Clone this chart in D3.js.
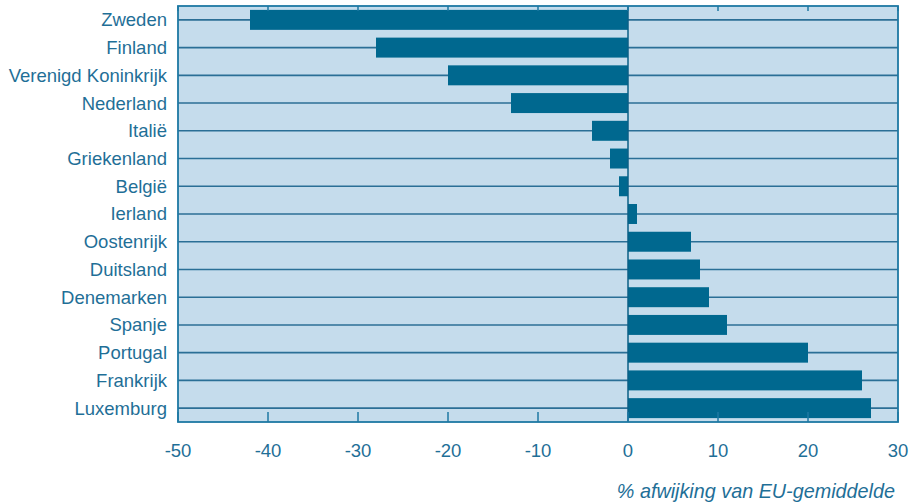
<!DOCTYPE html>
<html>
<head>
<meta charset="utf-8">
<script src="https://cdn.jsdelivr.net/npm/d3@7"></script>
<style>
  html, body { margin: 0; padding: 0; background: #ffffff; }
  svg { display: block; }
  text { font-family: "Liberation Sans", Arial, sans-serif; fill: #1f6f97; }
</style>
</head>
<body>
<svg id="chart" width="912" height="504"></svg>
<script>
// Landen en afwijking t.o.v. EU-gemiddelde (%)
const countries = ["Zweden", "Finland", "Verenigd Koninkrijk", "Nederland", "Italië",
  "Griekenland", "België", "Ierland", "Oostenrijk", "Duitsland", "Denemarken",
  "Spanje", "Portugal", "Frankrijk", "Luxemburg"];
const deviation = [-42, -28, -20, -13, -4, -2, -1, 1, 7, 8, 9, 11, 20, 26, 27];
const xTicks = [-50, -40, -30, -20, -10, 0, 10, 20, 30];
const axisTitle = "% afwijking van EU-gemiddelde";

const svg = d3.select("#chart");
const plotLeft = 178, plotRight = 898, plotTop = 6, plotBottom = 422;

const x = d3.scaleLinear().domain([-50, 30]).range([plotLeft, plotRight]);
const y = d3.scaleBand().domain(countries).range([plotTop, plotBottom]).paddingInner(0.28).paddingOuter(0.14);

const bg = "#c5dcec", barColor = "#00688f", gridColor = "#2b6f96", frameColor = "#1d78a3";

// plot background
svg.append("rect").attr("x", plotLeft).attr("y", plotTop)
  .attr("width", plotRight - plotLeft).attr("height", plotBottom - plotTop).attr("fill", bg);

// horizontal guide lines through each category
svg.append("g").selectAll("line").data(countries).join("line")
  .attr("x1", plotLeft).attr("x2", plotRight)
  .attr("y1", d => y(d) + y.bandwidth() / 2).attr("y2", d => y(d) + y.bandwidth() / 2)
  .attr("stroke", gridColor).attr("stroke-width", 1.6);

// bars
svg.append("g").selectAll("rect").data(deviation).join("rect")
  .attr("x", d => x(Math.min(0, d)))
  .attr("width", d => Math.abs(x(d) - x(0)))
  .attr("y", (d, i) => y(countries[i]))
  .attr("height", y.bandwidth())
  .attr("fill", barColor);

// zero line
svg.append("line").attr("x1", x(0)).attr("x2", x(0)).attr("y1", plotTop).attr("y2", plotBottom)
  .attr("stroke", "#0a5f86").attr("stroke-width", 1.5);

// frame
svg.append("rect").attr("x", plotLeft).attr("y", plotTop)
  .attr("width", plotRight - plotLeft).attr("height", plotBottom - plotTop)
  .attr("fill", "none").attr("stroke", frameColor).attr("stroke-width", 1.8);

// tick marks on top and bottom edges
const tickG = svg.append("g");
tickG.selectAll("line.b").data(xTicks).join("line").attr("class", "b")
  .attr("x1", d => x(d)).attr("x2", d => x(d)).attr("y1", plotBottom).attr("y2", plotBottom - 10)
  .attr("stroke", frameColor).attr("stroke-width", 1.5);
tickG.selectAll("line.t").data(xTicks).join("line").attr("class", "t")
  .attr("x1", d => x(d)).attr("x2", d => x(d)).attr("y1", plotTop).attr("y2", plotTop + 5)
  .attr("stroke", frameColor).attr("stroke-width", 1.5);

// x tick labels
svg.append("g").selectAll("text").data(xTicks).join("text")
  .attr("x", d => x(d)).attr("y", 457)
  .attr("text-anchor", "middle").attr("font-size", 18.5)
  .text(d => d);

// category labels
svg.append("g").selectAll("text").data(countries).join("text")
  .attr("x", 167).attr("y", d => y(d) + y.bandwidth() / 2)
  .attr("dy", "0.35em").attr("text-anchor", "end").attr("font-size", 18.5)
  .text(d => d);

// axis title
svg.append("text").attr("x", 895).attr("y", 498)
  .attr("text-anchor", "end").attr("font-size", 19.8).attr("font-style", "italic")
  .attr("fill", "#2a7db0")
  .text(axisTitle);
</script>
</body>
</html>
